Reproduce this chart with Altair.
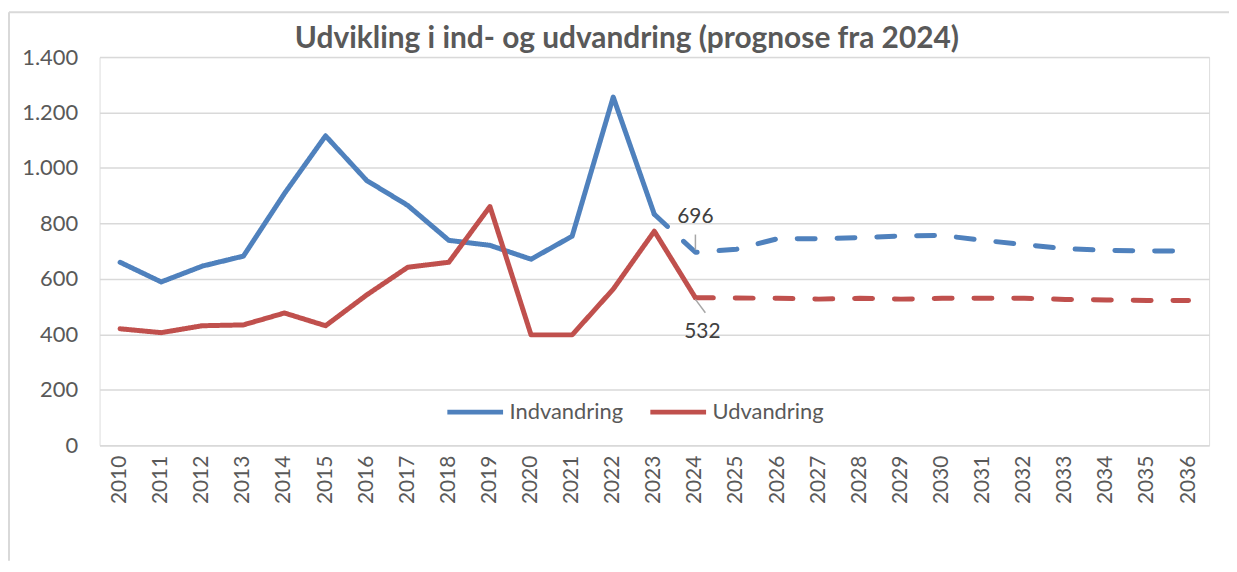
import altair as alt
import pandas as pd

title_text = "Udvikling i ind- og udvandring (prognose fra 2024)"
years = list(range(2010, 2037))
indvandring = [660, 589, 646, 682, 908, 1116, 955, 865, 739, 721, 671, 754, 1256, 833,
               696, 707, 745, 745, 749, 755, 757, 739, 724, 709, 703, 701, 701]
udvandring = [420, 406, 431, 434, 477, 431, 542, 642, 660, 861, 398, 398, 563, 772,
              532, 531, 530, 527, 530, 527, 530, 530, 530, 526, 524, 522, 522]
series_names = ["Indvandring", "Udvandring"]
colors = ["#4F81BD", "#C0504D"]
split_year = {"Indvandring": 2023, "Udvandring": 2024}
label_year = 2024

rows = []
for name, vals in zip(series_names, [indvandring, udvandring]):
    s = split_year[name]
    for y, v in zip(years, vals):
        if y <= s:
            rows.append({"year": y, "value": v, "serie": name, "type": "hist"})
        if y >= s:
            rows.append({"year": y, "value": v, "serie": name, "type": "prog"})
df = pd.DataFrame(rows)

lab_ind = pd.DataFrame({"year": [label_year], "value": [indvandring[years.index(label_year)]]})
lab_ud = pd.DataFrame({"year": [label_year], "value": [udvandring[years.index(label_year)]]})
lab_ind["label"] = lab_ind["value"].astype(str)
lab_ud["label"] = lab_ud["value"].astype(str)
lead_ind = pd.DataFrame({"year": [label_year], "y1": [705], "y2": [760]})
lead_ud = pd.DataFrame({"year": [label_year], "y1": [526], "y2": [478]})
title_df = pd.DataFrame({"t": [title_text]})

FONT = "Lato"
GRAY = "#595959"
FRAME = "#d9d9d9"

x_enc = alt.X("year:O", title=None,
              axis=alt.Axis(labelAngle=-90, labelFontSize=21, labelColor=GRAY, labelFont=FONT,
                            ticks=False, domainColor=FRAME, domainWidth=1.5,
                            labelPadding=10, labelBaseline="middle"))
y_enc = alt.Y("value:Q", title=None, scale=alt.Scale(domain=[0, 1400]),
              axis=alt.Axis(values=list(range(0, 1401, 200)), format=",d",
                            labelExpr="replace(datum.label, ',', '.')",
                            labelFontSize=22, labelColor=GRAY, labelFont=FONT,
                            ticks=False, domain=False, labelPadding=22,
                            gridColor=FRAME, gridWidth=1.5))

lines = alt.Chart(df).mark_line(strokeWidth=5, strokeCap="round", strokeJoin="round").encode(
    x=x_enc,
    y=y_enc,
    color=alt.Color("serie:N", scale=alt.Scale(domain=series_names, range=colors),
                    legend=alt.Legend(title=None, orient="none", legendX=347, legendY=326,
                                      direction="horizontal", symbolType="stroke",
                                      symbolStrokeWidth=5, symbolSize=3136,
                                      labelFontSize=22, labelColor=GRAY, labelFont=FONT,
                                      columnPadding=16, labelOffset=4)),
    strokeDash=alt.StrokeDash("type:N", scale=alt.Scale(domain=["hist", "prog"],
                                                        range=[[1, 0], [18, 22]]), legend=None),
)

rule_ind = alt.Chart(lead_ind).mark_rule(color="#a6a6a6", strokeWidth=1.5).encode(
    x="year:O", y="y1:Q", y2="y2:Q")
rule_ud = alt.Chart(lead_ud).mark_rule(color="#a6a6a6", strokeWidth=1.5, x2Offset=10).encode(
    x="year:O", x2="year:O", y="y1:Q", y2="y2:Q")

text_ind = alt.Chart(lab_ind).mark_text(fontSize=21, font=FONT, color="#404040",
                                        dy=-35, baseline="middle").encode(
    x="year:O", y="value:Q", text="label:N")
text_ud = alt.Chart(lab_ud).mark_text(fontSize=21, font=FONT, color="#404040",
                                      dy=34, dx=7, baseline="middle").encode(
    x="year:O", y="value:Q", text="label:N")

# outer chart frame (left and top edges), drawn as decoration
frame_left = alt.Chart(title_df).mark_rule(color=FRAME, strokeWidth=2).encode(
    x=alt.value(-91), y=alt.value(-45), y2=alt.value(506))
frame_top = alt.Chart(title_df).mark_rule(color=FRAME, strokeWidth=2).encode(
    x=alt.value(-91), x2=alt.value(1140), y=alt.value(-45))

# chart title as a text mark (so the frame does not push it off the page)
title_mark = alt.Chart(title_df).mark_text(fontSize=30, font=FONT, fontWeight="bold",
                                           color=GRAY, align="center", baseline="middle").encode(
    x=alt.value(530), y=alt.value(-18), text="t:N")

chart = alt.layer(frame_left, frame_top, title_mark, lines, rule_ind, rule_ud,
                  text_ind, text_ud).properties(
    width=1115, height=390,
    autosize=alt.AutoSizeParams(type="none"),
    padding={"left": 92, "top": 48, "right": 20, "bottom": 116},
).configure_view(stroke=None).configure(background="white")

chart.save("out.html", embed_options={"renderer": "svg", "actions": False})
